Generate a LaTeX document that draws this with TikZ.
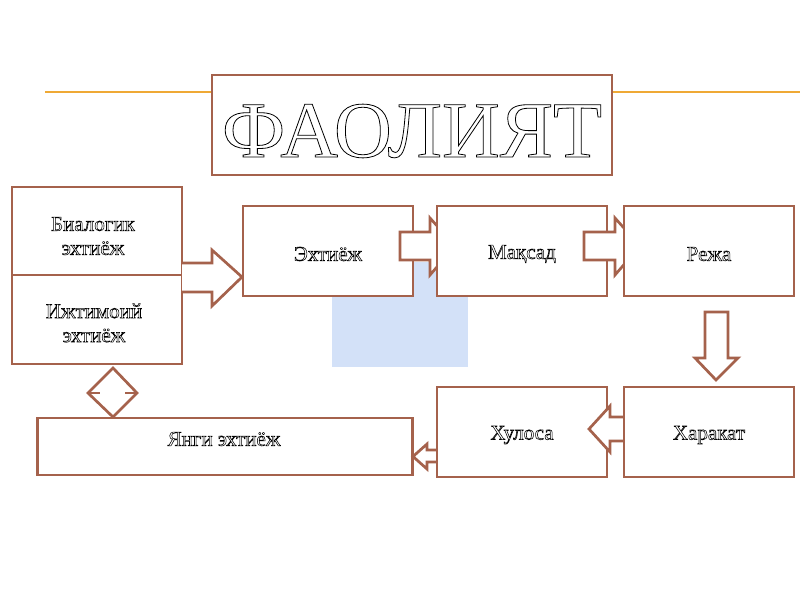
\documentclass[tikz,border=0pt]{standalone}
\usepackage{fontspec}
\setmainfont{Liberation Serif}
\usetikzlibrary{calc}
\definecolor{brd}{HTML}{A5624C}
\definecolor{org}{HTML}{EFA935}
\definecolor{sky}{HTML}{D3E1F8}
\newcommand{\hollowtext}[1]{\special{pdf:code q 1 Tr 0.55 w}#1\special{pdf:code Q}}
\newcommand{\hollowtitle}[1]{\special{pdf:code q 1 Tr 0.8 w}#1\special{pdf:code Q}}
\tikzset{
  box/.style={draw=brd, line width=2.7pt, fill=white, rectangle, inner sep=0pt},
  barrow/.style={draw=brd, line width=2.7pt, fill=white, line join=miter},
  lbl/.style={font=\fontsize{21}{24}\selectfont, align=center, inner sep=0pt}
}
\begin{document}
\begin{tikzpicture}[x=1pt,y=-1pt]
\useasboundingbox (0,0) rectangle (800,600);
% textured background patch
\fill[sky] (332,262) rectangle (468,367);
% orange rule
\draw[org, line width=2.4pt] (45,92) -- (800,92);
% title
\node[box, minimum width=400pt, minimum height=100pt] (title) at (412,125) {};
\node[inner sep=0pt, font=\fontsize{80}{80}\selectfont] (titletext) at (412,131) {\hollowtitle{ФАОЛИЯТ}};
% left boxes
\node[box, minimum width=170pt, minimum height=88pt] (bio) at (97,231) {};
\node[box, minimum width=170pt, minimum height=89pt] (soc) at (97,319.5) {};
\node[lbl] at (93,236) {\hollowtext{Биалогик}\\\hollowtext{эхтиёж}};
\node[lbl] at (94,323) {\hollowtext{Ижтимоий}\\\hollowtext{эхтиёж}};
% arrow bio/soc -> ext
\draw[barrow] (182,263) -- (212,263) -- (212,250) -- (242,277) -- (212,306) -- (212,292) -- (182,292);
% top row
\node[box, minimum width=170pt, minimum height=90pt] (ext) at (328,251) {};
\draw[barrow] (400,232) -- (430,232) -- (430,218) -- (455,246) -- (430,275) -- (430,260) -- (400,260) -- cycle;
\node[box, minimum width=170pt, minimum height=90pt] (maq) at (522,251) {};
\draw[barrow] (584,232) -- (615,232) -- (615,218) -- (640,246) -- (615,275) -- (615,260) -- (584,260) -- cycle;
\node[box, minimum width=170pt, minimum height=90pt] (reja) at (709,251) {};
\node[lbl] at ($(ext.center)+(0,3)$) {\hollowtext{Эхтиёж}};
\node[lbl] at ($(maq.center)+(0,3)$) {\hollowtext{Мақсад}};
\node[lbl] at ($(reja.center)+(0,3)$) {\hollowtext{Режа}};
% down arrow
\draw[barrow] (705,312) -- (728,312) -- (728,358) -- (738,358) -- (716,380) -- (695,358) -- (705,358) -- cycle;
% bottom row
\node[box, minimum width=375pt, minimum height=57pt] (yangi) at (225,446.5) {};
\draw[barrow] (437,450) -- (427,450) -- (427,444) -- (413,456.5) -- (427,469) -- (427,462) -- (437,462);
\node[box, minimum width=170pt, minimum height=90pt] (xul) at (522,432) {};
\draw[barrow] (627,417) -- (610,417) -- (610,406) -- (589,429) -- (610,452) -- (610,441) -- (627,441);
\node[box, minimum width=170pt, minimum height=90pt] (xar) at (709,432) {};
\node[lbl] at ($(xul.center)+(0,3)$) {\hollowtext{Хулоса}};
\node[lbl] at ($(xar.center)+(0,3)$) {\hollowtext{Харакат}};
\node[lbl] at (224,439) {\hollowtext{Янги эхтиёж}};
% double arrow between soc and yangi
\draw[barrow, fill=none] (113,368) -- (137,393) -- (113,417) -- (88,393) -- cycle;
\draw[brd, line width=2.7pt] (88,393) -- (100,393) (125,393) -- (137,393);
\end{tikzpicture}
\end{document}
